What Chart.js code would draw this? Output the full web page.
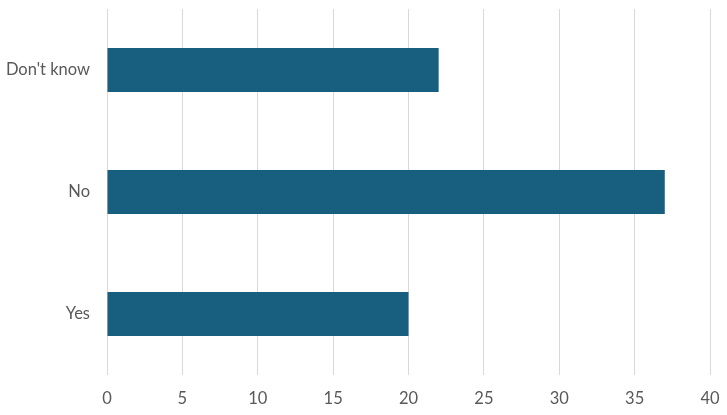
<!DOCTYPE html>
<html>
<head>
<meta charset="utf-8">
<script src="https://cdn.jsdelivr.net/npm/chart.js@4"></script>
<style>
  html, body { margin: 0; padding: 0; background: #fff; }
  #wrap { width: 727px; height: 415px; }
</style>
</head>
<body>
<div id="wrap"><canvas id="chart" width="727" height="415"></canvas></div>
<script>
// data
const categories = ["Don't know", "No", "Yes"];
const counts = [22, 37, 20];
const xTicks = [0, 5, 10, 15, 20, 25, 30, 35, 40];

const labelFont = { family: "Lato", size: 16.5 };

const ctx = document.getElementById("chart").getContext("2d");
new Chart(ctx, {
  type: "bar",
  data: {
    labels: categories,
    datasets: [{
      data: counts,
      backgroundColor: "#175e7f",
      barPercentage: 0.36,
      categoryPercentage: 1,
    }]
  },
  options: {
    indexAxis: "y",
    responsive: false,
    animation: false,
    layout: { padding: { top: 9, right: 17, bottom: 0, left: 0 } },
    plugins: { legend: { display: false }, tooltip: { enabled: false } },
    scales: {
      x: {
        min: 0,
        max: 40,
        afterBuildTicks: (axis) => { axis.ticks = xTicks.map(v => ({ value: v })); },
        afterFit: (axis) => {
          axis.height = 40;
          axis.paddingLeft = 0;
          axis.paddingRight = 0;
        },
        grid: { color: "#d9d9d9", lineWidth: 1, drawTicks: true, tickLength: 0 },
        border: { display: false },
        ticks: { color: "#595959", font: labelFont, padding: 14 },
      },
      y: {
        afterFit: (axis) => {
          axis.width = 107;
          axis.paddingTop = 0;
          axis.paddingBottom = 0;
        },
        grid: { display: false },
        border: { display: false },
        ticks: { color: "#595959", font: labelFont, padding: 9 },
      },
    },
  },
});
</script>
</body>
</html>
